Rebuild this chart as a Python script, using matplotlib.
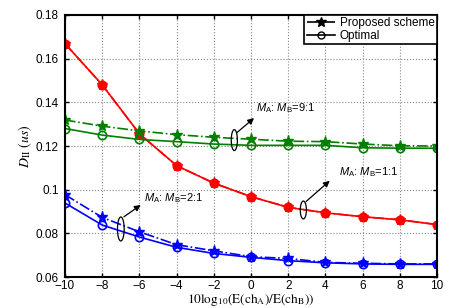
import numpy as np
import matplotlib.pyplot as plt
from matplotlib.patches import Ellipse

plt.rcParams["font.family"] = ["Liberation Sans", "DejaVu Sans"]
plt.rcParams["mathtext.fontset"] = "custom"
plt.rcParams["mathtext.rm"] = "Liberation Sans"
plt.rcParams["mathtext.it"] = "Liberation Sans:italic"

snr = [-10, -8, -6, -4, -2, 0, 2, 4, 6, 8, 10]

# M_A:M_B = 1:1 (red, proposed and optimal overlap)
red_prop = [0.1669, 0.1480, 0.1256, 0.1110, 0.1030, 0.0968, 0.0919, 0.0894, 0.0876, 0.0862, 0.0840]
red_opt = [0.1669, 0.1480, 0.1256, 0.1110, 0.1030, 0.0968, 0.0919, 0.0894, 0.0876, 0.0862, 0.0840]
# M_A:M_B = 9:1 (green)
green_prop = [0.1319, 0.1291, 0.1269, 0.1252, 0.1240, 0.1231, 0.1222, 0.1220, 0.1209, 0.1201, 0.1200]
green_opt = [0.1280, 0.1250, 0.1230, 0.1220, 0.1209, 0.1203, 0.1203, 0.1203, 0.1192, 0.1190, 0.1190]
# M_A:M_B = 2:1 (blue)
blue_prop = [0.0977, 0.0873, 0.0807, 0.0748, 0.0720, 0.0693, 0.0685, 0.0667, 0.0663, 0.0660, 0.0660]
blue_opt = [0.0939, 0.0838, 0.0783, 0.0736, 0.0708, 0.0690, 0.0675, 0.0665, 0.0660, 0.0658, 0.0658]

RED, GREEN, BLUE = "#ff0000", "#008000", "#0000ff"

fig = plt.figure(figsize=(4.66, 3.08), dpi=100)
ax = fig.add_axes([0.1395, 0.1006, 0.7985, 0.8507])

ms = 6
lw = 1.2
for prop, opt, c, filled in [(red_prop, red_opt, RED, True),
                             (green_prop, green_opt, GREEN, False),
                             (blue_prop, blue_opt, BLUE, False)]:
    ax.plot(snr, prop, color=c, linestyle="-.", linewidth=lw, marker="*",
            markersize=ms + 2, markerfacecolor=c, markeredgecolor=c)
    ax.plot(snr, opt, color=c, linestyle="-", linewidth=lw, marker="o",
            markersize=ms, markerfacecolor=c if filled else "none",
            markeredgecolor=c, markeredgewidth=1.2)

# legend proxies
ax.plot([], [], color="k", linestyle="-.", marker="*", markersize=ms + 1,
        linewidth=lw, label="Proposed scheme")
ax.plot([], [], color="k", linestyle="-", marker="o", markersize=ms - 1,
        markerfacecolor="none", linewidth=lw, label="Optimal")
leg = ax.legend(loc="upper right", fontsize=8.5, fancybox=False, framealpha=1,
                edgecolor="k", borderaxespad=0.0, handlelength=2.4,
                handletextpad=0.4, borderpad=0.2, labelspacing=0.05)
leg.get_frame().set_linewidth(1.2)

# ellipses and arrows
for (cx, cy, w, h), tail, head, txt, tpos in [
        ((-0.9, 0.1227, 0.33, 0.0096), (-0.75, 0.1262), (0.16, 0.1328),
         r"$M_{\mathrm{A}}$: $M_{\mathrm{B}}$=9:1", (0.25, 0.1372)),
        ((2.81, 0.0907, 0.33, 0.0082), (2.96, 0.0946), (4.23, 0.1041),
         r"$M_{\mathrm{A}}$: $M_{\mathrm{B}}$=1:1", (4.75, 0.1081)),
        ((-7.0, 0.0820, 0.36, 0.0110), (-6.83, 0.0876), (-5.93, 0.0930),
         r"$M_{\mathrm{A}}$: $M_{\mathrm{B}}$=2:1", (-5.75, 0.0962))]:
    ax.add_patch(Ellipse((cx, cy), w, h, fill=False, edgecolor="k", linewidth=0.9, zorder=5))
    ax.annotate("", xy=head, xytext=tail,
                arrowprops=dict(arrowstyle="-|>", color="k", linewidth=0.9,
                                mutation_scale=9, shrinkA=0, shrinkB=0))
    ax.text(tpos[0], tpos[1], txt, fontsize=8, ha="left", va="center")

ax.set_xlim(-10, 10)
ax.set_ylim(0.06, 0.18)
ax.set_xticks(np.arange(-10, 11, 2))
ax.set_yticks([0.06, 0.08, 0.10, 0.12, 0.14, 0.16, 0.18])
ax.set_yticklabels(["0.06", "0.08", "0.1", "0.12", "0.14", "0.16", "0.18"])
ax.tick_params(direction="in", top=True, right=True, labelsize=8.5, length=3, width=1)
ax.tick_params(axis="x", pad=2.5)
ax.tick_params(axis="y", pad=4.5)
ax.grid(True, linestyle=":", color="#888888", linewidth=0.8)
for s in ax.spines.values():
    s.set_linewidth(1.5)

ax.set_xlabel(r"$\mathrm{10log_{10}(E(ch_A)/E(ch_B))}$", fontsize=9.5, labelpad=-0.5,
              math_fontfamily="stix")
ax.set_ylabel(r"$D_{\mathrm{II}}\ (us)$", fontsize=10, labelpad=1,
              math_fontfamily="stix")

fig.savefig("out.png", dpi=100)
